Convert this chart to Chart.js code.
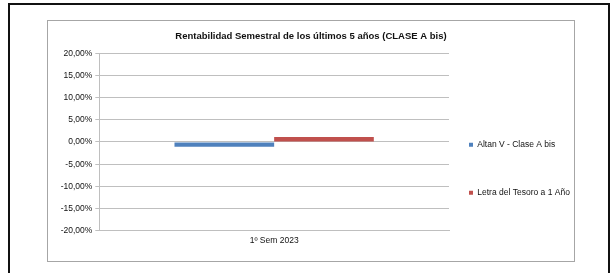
<!DOCTYPE html>
<html>
<head>
<meta charset="utf-8">
<script src="https://cdn.jsdelivr.net/npm/chart.js@4"></script>
<style>
  html, body { margin: 0; padding: 0; background: #fff; }
  #marco { position: absolute; left: 8px; top: 3px; width: 598px; height: 300px; border: 2px solid #111; }
  #caja { position: absolute; left: 47px; top: 20px; width: 526px; height: 240px; border: 1px solid #a6a6a6; background: #fff; }
  #caja canvas { position: absolute; left: 0; top: 0; }
</style>
</head>
<body>
<div id="marco"></div>
<div id="caja"><canvas id="grafico" width="526" height="240"></canvas></div>
<script>
// =================== DATOS ===================
const categorias = ['1º Sem 2023'];
const altanV = [-1.05];      // Altan V - Clase A bis (%)
const letraTesoro = [1.15];  // Letra del Tesoro a 1 Año (%)
const ticksY = [-20, -15, -10, -5, 0, 5, 10, 15, 20];

const fuente = 'Liberation Sans, Arial, sans-serif';

function formatoPct(v) {
  return v.toFixed(2).replace('.', ',') + '%';
}

// leyenda con un hueco en medio (como la de Excel)
function etiquetasLeyenda(chart) {
  const items = Chart.defaults.plugins.legend.labels.generateLabels(chart);
  items.splice(1, 0, {
    text: '', fillStyle: 'rgba(0,0,0,0)', strokeStyle: 'rgba(0,0,0,0)',
    lineWidth: 0, hidden: false, datasetIndex: -1
  });
  return items;
}

new Chart(document.getElementById('grafico'), {
  type: 'bar',
  data: {
    labels: categorias,
    datasets: [
      { label: 'Altan V - Clase A bis', data: altanV, backgroundColor: '#4f81bd' },
      { label: 'Letra del Tesoro a 1 Año', data: letraTesoro, backgroundColor: '#c0504d' }
    ]
  },
  options: {
    responsive: false,
    animation: false,
    datasets: { bar: { categoryPercentage: 0.57, barPercentage: 1.0 } },
    layout: { padding: { left: 0, right: 0, top: 0, bottom: 9.5 } },
    plugins: {
      title: {
        display: true,
        text: 'Rentabilidad Semestral de los últimos 5 años (CLASE A bis)',
        color: '#111',
        font: { family: fuente, size: 9.5, weight: 'bold', lineHeight: 1.2 },
        padding: { top: 9.3, bottom: 11.6 }
      },
      legend: {
        position: 'right',
        align: 'center',
        maxWidth: 120.5,
        title: { display: true, text: ' ', font: { size: 1 }, padding: { top: 64, bottom: 0 } },
        labels: {
          color: '#111',
          font: { family: fuente, size: 8.5, lineHeight: 1 },
          boxWidth: 4,
          boxHeight: 4,
          padding: 15.5,
          generateLabels: etiquetasLeyenda
        }
      },
      tooltip: { enabled: false }
    },
    scales: {
      x: {
        grid: { display: false, drawTicks: false },
        border: { color: '#bfbfbf' },
        ticks: { color: '#111', font: { family: fuente, size: 8.5 }, padding: 5.3 }
      },
      y: {
        min: -20,
        max: 20,
        afterBuildTicks: axis => { axis.ticks = ticksY.map(v => ({ value: v })); },
        afterFit: axis => { axis.width = 51.3; },
        grid: { color: '#bfbfbf', tickLength: 4 },
        border: { color: '#bfbfbf' },
        ticks: {
          color: '#111',
          font: { family: fuente, size: 8.5 },
          padding: 3,
          callback: v => formatoPct(v)
        }
      },
      // eje vacío: solo deja aire entre el gráfico y la leyenda
      hueco: {
        position: 'right',
        display: true,
        afterFit: axis => { axis.width = 4.5; },
        grid: { display: false },
        border: { display: false },
        ticks: { display: false }
      }
    }
  }
});
</script>
</body>
</html>
